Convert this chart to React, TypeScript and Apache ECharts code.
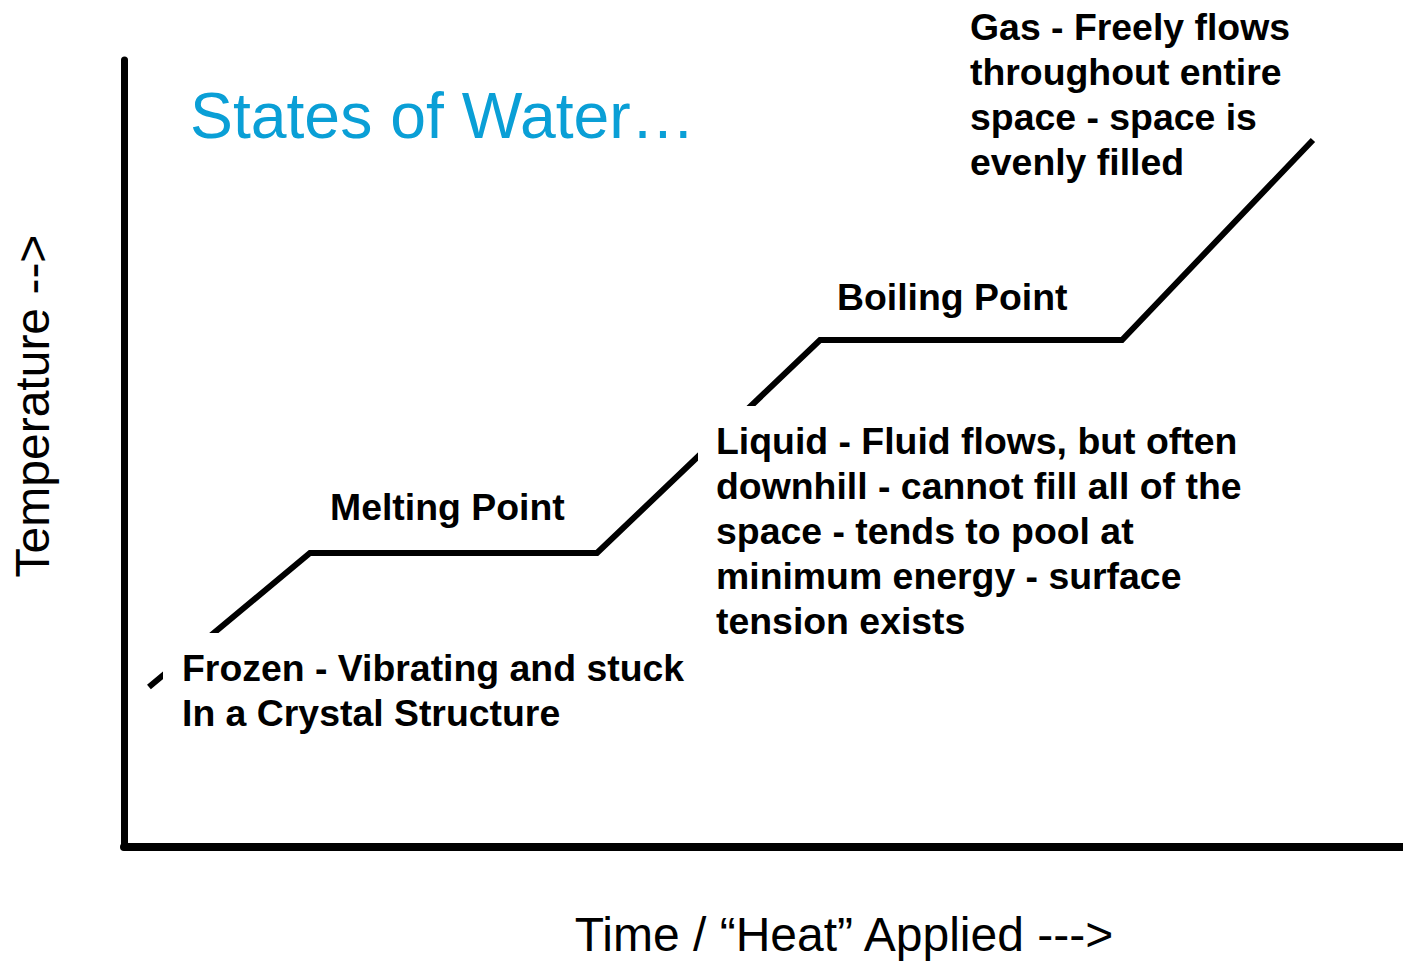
import React, { useEffect, useRef } from "react";
import * as echarts from "echarts";

// Heating curve of water (time / heat applied vs temperature), arbitrary 0-100 units
const timeValues = [1.95, 14.54, 36.98, 54.42, 78.03, 92.96];
const temperatureValues = [20.33, 37.36, 37.36, 64.42, 64.42, 89.83];

const titleText = "States of Water…";
const xAxisName = "Time / “Heat” Applied --->";
const yAxisName = "Temperature -->";
const meltingLabel = "Melting Point";
const boilingLabel = "Boiling Point";
const frozenLines = ["Frozen - Vibrating and stuck", "In a Crystal Structure"];
const liquidLines = [
  "Liquid - Fluid flows, but often",
  "downhill - cannot fill all of the",
  "space - tends to pool at",
  "minimum energy - surface",
  "tension exists",
];
const gasLines = [
  "Gas - Freely flows",
  "throughout entire",
  "space - space is",
  "evenly filled",
];

const FONT = "'Liberation Sans', Arial, Helvetica, sans-serif";
const LABEL_SIZE = 37.4;
const LINE_H = 45;
const AXIS_NAME_SIZE = 48;
const TITLE_SIZE = 64.3;

export default function App() {
  const ref = useRef<HTMLDivElement>(null);

  useEffect(() => {
    document.body.style.margin = "0";
    if (!ref.current) return;
    const chart = echarts.init(ref.current, null, { renderer: "svg" });

    const labelText = (x: number, y: number, text: string, vAlign: string) => ({
      type: "text",
      x,
      y,
      z: 101,
      style: {
        text,
        fill: "#000",
        font: `bold ${LABEL_SIZE}px ${FONT}`,
        fontFamily: FONT,
        fontSize: LABEL_SIZE,
        fontWeight: "bold",
        lineHeight: LINE_H,
        textAlign: "left",
        textVerticalAlign: vAlign,
        verticalAlign: vAlign,
      },
    });

    chart.setOption({
      animation: false,
      backgroundColor: "#fff",
      grid: { left: 124, right: 0, top: 60, bottom: 114, containLabel: false },
      xAxis: {
        type: "value",
        min: 0,
        max: 100,
        axisLine: { show: true, onZero: false, lineStyle: { color: "#000", width: 8 } },
        axisTick: { show: false },
        axisLabel: { show: false },
        splitLine: { show: false },
      },
      yAxis: {
        type: "value",
        min: 0,
        max: 100,
        axisLine: { show: true, onZero: false, lineStyle: { color: "#000", width: 7 } },
        axisTick: { show: false },
        axisLabel: { show: false },
        splitLine: { show: false },
      },
      series: [
        {
          type: "line",
          data: timeValues.map((t, i) => [t, temperatureValues[i]]),
          symbol: "none",
          silent: true,
          lineStyle: { color: "#000", width: 6, cap: "butt", join: "miter" },
          z: 2,
        },
      ],
      graphic: {
        elements: [
          // white text boxes that hide the curve behind the descriptions
          { type: "rect", z: 100, shape: { x: 163, y: 633, width: 540, height: 110 }, style: { fill: "#fff" } },
          { type: "rect", z: 100, shape: { x: 698, y: 406, width: 570, height: 240 }, style: { fill: "#fff" } },
          {
            type: "text",
            x: 190,
            y: 116,
            z: 101,
            style: {
              text: titleText,
              fill: "#0A9FD6",
              font: `${TITLE_SIZE}px ${FONT}`,
              fontFamily: FONT,
              fontSize: TITLE_SIZE,
              textAlign: "left",
              textVerticalAlign: "middle",
              verticalAlign: "middle",
            },
          },
          {
            type: "text",
            x: 844,
            y: 934,
            z: 101,
            style: {
              text: xAxisName,
              fill: "#000",
              font: `${AXIS_NAME_SIZE}px ${FONT}`,
              fontFamily: FONT,
              fontSize: AXIS_NAME_SIZE,
              textAlign: "center",
              textVerticalAlign: "middle",
              verticalAlign: "middle",
            },
          },
          {
            type: "text",
            x: 32,
            y: 406,
            rotation: Math.PI / 2,
            z: 101,
            style: {
              text: yAxisName,
              fill: "#000",
              font: `${AXIS_NAME_SIZE}px ${FONT}`,
              fontFamily: FONT,
              fontSize: AXIS_NAME_SIZE,
              textAlign: "center",
              textVerticalAlign: "middle",
              verticalAlign: "middle",
            },
          },
          labelText(330, 507, meltingLabel, "middle"),
          labelText(837, 297, boilingLabel, "middle"),
          labelText(182, 645, frozenLines.join("\n"), "top"),
          labelText(716, 418, liquidLines.join("\n"), "top"),
          labelText(970, 4, gasLines.join("\n"), "top"),
        ],
      },
    });

    return () => chart.dispose();
  }, []);

  return <div ref={ref} style={{ width: 1403, height: 961 }} />;
}
